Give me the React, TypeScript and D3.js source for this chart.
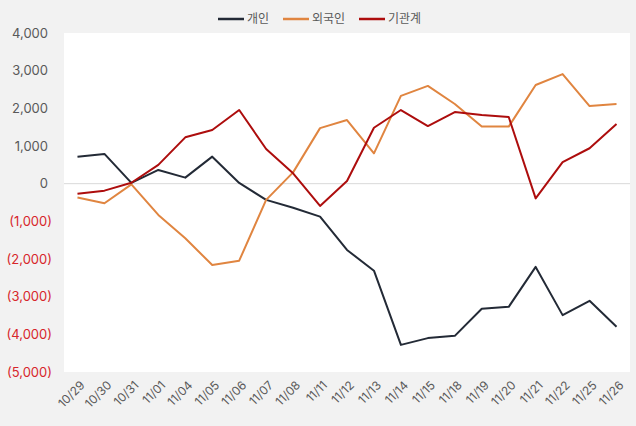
import { useEffect, useRef } from 'react';
import * as d3 from 'd3';

const dates = [
  '10/29', '10/30', '10/31', '11/01', '11/04', '11/05', '11/06', '11/07', '11/08', '11/11', '11/12',
  '11/13', '11/14', '11/15', '11/18', '11/19', '11/20', '11/21', '11/22', '11/25', '11/26',
];

const individual = [
  717, 790, 20, 365, 160, 717, 20, -430, -640, -875, -1760,
  -2310, -4280, -4100, -4040, -3320, -3270, -2210, -3490, -3110, -3800,
];
const foreign = [
  -370, -520, -20, -830, -1450, -2160, -2045, -430, 300, 1475, 1690,
  805, 2330, 2595, 2115, 1515, 1515, 2620, 2910, 2060, 2115,
];
const institution = [
  -270, -185, 25, 500, 1230, 1425, 1955, 920, 275, -590, 70,
  1485, 1955, 1530, 1900, 1825, 1770, -390, 570, 940, 1585,
];

const seriesNames = ['개인', '외국인', '기관계'];
const yTicks = [4000, 3000, 2000, 1000, 0, -1000, -2000, -3000, -4000, -5000];

const colors = ['#232a36', '#e08540', '#ad0d0d'];
const FONT = "Inter, 'Noto Sans CJK KR', sans-serif";

const App = () => {
  const svgRef = useRef<SVGSVGElement>(null);

  useEffect(() => {
    if (!svgRef.current) return;
    const width = 636;
    const height = 426;
    const margin = { top: 33, right: 6, bottom: 54, left: 64 };

    const svg = d3.select(svgRef.current);
    svg.selectAll('*').remove();

    svg.append('rect')
      .attr('width', width)
      .attr('height', height)
      .attr('fill', '#f2f2f2');

    const x = d3.scalePoint<string>()
      .domain(dates)
      .range([margin.left, width - margin.right])
      .padding(0.5);

    const y = d3.scaleLinear()
      .domain([-5000, 4000])
      .range([height - margin.bottom, margin.top]);

    svg.append('rect')
      .attr('x', margin.left)
      .attr('y', margin.top)
      .attr('width', width - margin.left - margin.right)
      .attr('height', height - margin.top - margin.bottom)
      .attr('fill', '#ffffff');

    // zero line
    svg.append('line')
      .attr('x1', margin.left)
      .attr('x2', width - margin.right)
      .attr('y1', y(0))
      .attr('y2', y(0))
      .attr('stroke', '#d9d9d9')
      .attr('stroke-width', 1);

    const fmt = d3.format(',');
    svg.append('g')
      .selectAll('text')
      .data(yTicks)
      .enter()
      .append('text')
      .attr('x', d => (d < 0 ? 52 : 48))
      .attr('y', d => y(d))
      .attr('dy', '0.35em')
      .attr('text-anchor', 'end')
      .style('font-family', FONT)
      .style('font-size', '13px')
      .style('fill', d => (d < 0 ? '#d7262b' : '#595959'))
      .text(d => (d < 0 ? `(${fmt(-d)})` : fmt(d)));

    svg.append('g')
      .selectAll('text')
      .data(dates)
      .enter()
      .append('text')
      .attr('transform', d => `translate(${(x(d) as number) + 5},${height - margin.bottom + 11}) rotate(-45)`)
      .attr('text-anchor', 'end')
      .attr('dy', '0.35em')
      .style('font-family', FONT)
      .style('font-size', '12px')
      .style('fill', '#595959')
      .text(d => d);

    const line = d3.line<number>()
      .x((_, i) => x(dates[i]) as number)
      .y(d => y(d));

    [individual, foreign, institution].forEach((data, i) => {
      svg.append('path')
        .datum(data)
        .attr('fill', 'none')
        .attr('stroke', colors[i])
        .attr('stroke-width', 2)
        .attr('stroke-linejoin', 'round')
        .attr('d', line);
    });

    const legendX = [218, 283, 359];
    const legend = svg.append('g');
    seriesNames.forEach((name, i) => {
      legend.append('line')
        .attr('x1', legendX[i])
        .attr('x2', legendX[i] + 26)
        .attr('y1', 19)
        .attr('y2', 19)
        .attr('stroke', colors[i])
        .attr('stroke-width', 2.5);
      legend.append('text')
        .attr('x', legendX[i] + 29)
        .attr('y', 19)
        .attr('dy', '0.35em')
        .style('font-family', FONT)
        .style('font-size', '12px')
        .style('fill', '#595959')
        .text(name);
    });
  }, []);

  return (
    <div style={{ position: 'absolute', left: 0, top: 0, width: 636, height: 426 }}>
      <svg ref={svgRef} width={636} height={426} style={{ display: 'block' }}></svg>
    </div>
  );
};

export default App;
